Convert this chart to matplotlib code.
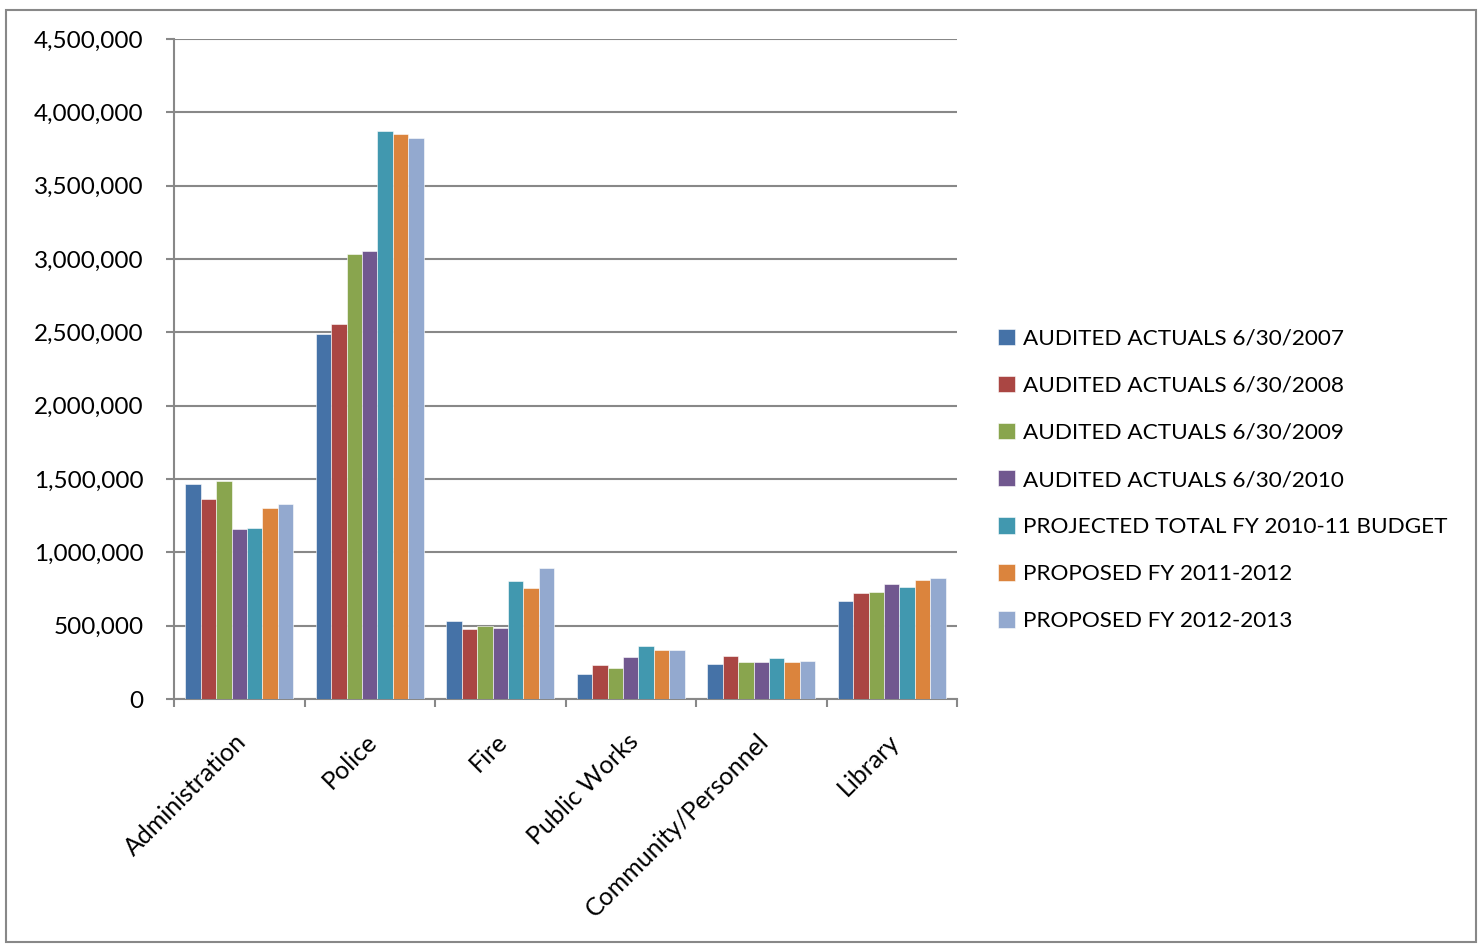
import numpy as np
import matplotlib
matplotlib.use("Agg")
import matplotlib.pyplot as plt
from matplotlib.patches import Rectangle
from matplotlib.ticker import FuncFormatter, MultipleLocator

plt.rcParams['font.family'] = ['Lato', 'DejaVu Sans']

categories = ["Administration", "Police", "Fire", "Public Works", "Community/Personnel", "Library"]
series = ["AUDITED ACTUALS 6/30/2007", "AUDITED ACTUALS 6/30/2008", "AUDITED ACTUALS 6/30/2009",
          "AUDITED ACTUALS 6/30/2010", "PROJECTED TOTAL FY 2010-11 BUDGET",
          "PROPOSED FY 2011-2012", "PROPOSED FY 2012-2013"]
a2007 = [1464000, 2486000, 530000, 168000, 241000, 670000]
a2008 = [1361000, 2554000, 477000, 234000, 295000, 720000]
a2009 = [1486000, 3031000, 496000, 209000, 252000, 731000]
a2010 = [1157000, 3054000, 484000, 288000, 250000, 784000]
p2011 = [1164000, 3874000, 806000, 361000, 277000, 761000]
p2012 = [1302000, 3849000, 755000, 334000, 252000, 813000]
p2013 = [1329000, 3826000, 891000, 336000, 257000, 823000]
values = [a2007, a2008, a2009, a2010, p2011, p2012, p2013]
colors = ["#4572A7", "#AA4643", "#89A54E", "#71588F", "#4198AF", "#DB843D", "#93A9CF"]

fig = plt.figure(figsize=(14.82, 9.44), dpi=100)
fig.patches.append(Rectangle((6/1482, 2/944), 1470/1482, 932/944, transform=fig.transFigure,
                             fill=False, ec="#888888", lw=1.5))
ax = fig.add_axes([174/1482, 1 - 699/944, (957-174)/1482, (699-39)/944])

x = np.arange(len(categories))
w = 0.118
for i, (vals, c, lab) in enumerate(zip(values, colors, series)):
    ax.bar(x + (i - 3) * w, vals, width=w, color=c, label=lab, edgecolor="white", linewidth=0.4, zorder=3)

ax.set_xlim(-0.5, len(categories) - 0.5)
ax.set_ylim(0, 4500000)
ax.yaxis.set_major_locator(MultipleLocator(500000))
ax.yaxis.set_major_formatter(FuncFormatter(lambda v, p: f"{int(v):,}"))
ax.grid(axis="y", color="#888888", lw=1.5, zorder=0)
for s in ["top", "right"]:
    ax.spines[s].set_visible(False)
for s in ["left", "bottom"]:
    ax.spines[s].set_color("#888888")
    ax.spines[s].set_linewidth(1.5)
ax.tick_params(axis="y", length=6, color="#888888", width=1.5, labelsize=17.5, pad=16)
ax.set_xticks(np.arange(-0.5, len(categories)), minor=False)
ax.set_xticklabels([])
ax.tick_params(axis="x", which="major", length=6, color="#888888", width=1.5)
ax.set_xticks(x - 0.035, minor=True)
ax.set_xticklabels(categories, minor=True, rotation=45, ha="right", rotation_mode="anchor", fontsize=18)
ax.tick_params(axis="x", which="minor", length=0, pad=22)

h, l = ax.get_legend_handles_labels()
fig.legend(h, l, loc="center left", bbox_to_anchor=(978/1482, 1 - 480/944), frameon=False,
           fontsize=16.2, handlelength=0.75, handleheight=0.75, handletextpad=0.35, labelspacing=1.2)

fig.savefig("out.png", dpi=100)
